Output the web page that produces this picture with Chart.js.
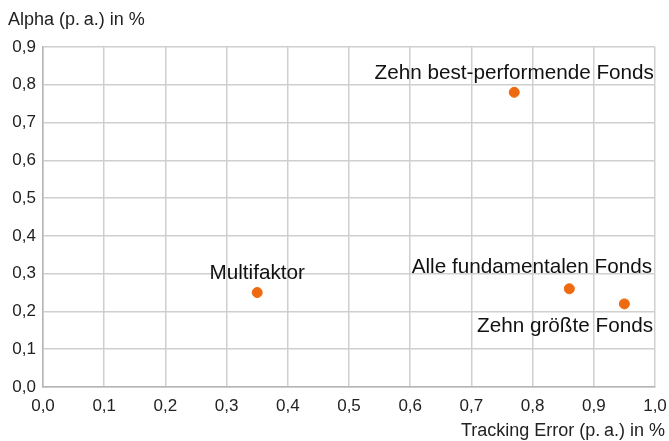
<!DOCTYPE html>
<html>
<head>
<meta charset="utf-8">
<script src="https://cdn.jsdelivr.net/npm/chart.js@4.4.1/dist/chart.umd.min.js"></script>
<style>
  html, body { margin: 0; padding: 0; background: #fff; }
  #wrap { width: 669px; height: 441px; }
</style>
</head>
<body>
<div id="wrap"><canvas id="chart" width="669" height="441"></canvas></div>
<script>
// fund groups, tracking error (x) and alpha (y), both in % p.a.
const names = ["Zehn best-performende Fonds", "Multifaktor", "Alle fundamentalen Fonds", "Zehn größte Fonds"];
const trackingError = [0.77, 0.35, 0.86, 0.95];
const alpha = [0.78, 0.25, 0.26, 0.22];

const xTitle = "Tracking Error (p.\u2009a.) in %";
const yTitle = "Alpha (p.\u2009a.) in %";

// where each label sits relative to its dot
const labelPlace = ["above", "above", "aboveRight", "belowRight"];

const fontFamily = "'Liberation Sans', Arial, Helvetica, sans-serif";
const orange = "#ee6a10";
const fmt = (v) => v.toFixed(1).replace(".", ",");

const points = trackingError.map((x, i) => ({ x: x, y: alpha[i] }));

const labelsPlugin = {
    id: "pointLabels",
    afterDatasetsDraw(chart) {
        const ctx = chart.ctx;
        const meta = chart.getDatasetMeta(0);
        const area = chart.chartArea;
        ctx.save();
        ctx.fillStyle = "#111";
        ctx.font = "20.7px " + fontFamily;
        ctx.textBaseline = "middle";
        meta.data.forEach((pt, i) => {
            const place = labelPlace[i];
            if (place === "above") {
                ctx.textAlign = "center";
                ctx.fillText(names[i], pt.x, pt.y - 19);
            } else if (place === "aboveRight") {
                ctx.textAlign = "right";
                ctx.fillText(names[i], area.right - 3, pt.y - 21);
            } else {
                ctx.textAlign = "right";
                ctx.fillText(names[i], area.right - 2, pt.y + 22);
            }
        });
        ctx.restore();
    },
    afterDraw(chart) {
        const ctx = chart.ctx;
        ctx.save();
        ctx.fillStyle = "#222";
        ctx.font = "18px " + fontFamily;
        ctx.textBaseline = "middle";
        ctx.textAlign = "left";
        ctx.fillText(yTitle, 8, 20);
        ctx.textAlign = "right";
        ctx.fillText(xTitle, 665, 431);
        ctx.restore();
    }
};

new Chart(document.getElementById("chart"), {
    type: "scatter",
    data: {
        datasets: [{
            data: points,
            backgroundColor: orange,
            borderColor: orange,
            pointRadius: 5,
            pointHoverRadius: 5,
        }],
    },
    options: {
        responsive: false,
        animation: false,
        events: [],
        layout: { padding: { top: 47, right: 14, left: 0, bottom: 0 } },
        plugins: {
            legend: { display: false },
            tooltip: { enabled: false },
        },
        scales: {
            x: {
                type: "linear",
                min: 0,
                max: 1,
                ticks: {
                    stepSize: 0.1,
                    color: "#222",
                    font: { family: fontFamily, size: 17 },
                    padding: 9,
                    maxRotation: 0,
                    callback: (v) => fmt(v),
                },
                grid: { color: "#cfcfcf", drawTicks: false, lineWidth: 1.5 },
                border: { color: "#b5b5b5", width: 1.5 },
                afterFit: (s) => { s.height = 54; s.paddingLeft = 0; s.paddingRight = 0; },
            },
            y: {
                type: "linear",
                min: 0,
                max: 0.9,
                ticks: {
                    stepSize: 0.1,
                    color: "#222",
                    font: { family: fontFamily, size: 17 },
                    padding: 7,
                    callback: (v) => fmt(v),
                },
                grid: { color: "#cfcfcf", drawTicks: false, lineWidth: 1.5 },
                border: { color: "#b5b5b5", width: 1.5 },
                afterFit: (s) => { s.width = 43; s.paddingTop = 0; s.paddingBottom = 0; },
            },
        },
    },
    plugins: [labelsPlugin],
});
</script>
</body>
</html>
